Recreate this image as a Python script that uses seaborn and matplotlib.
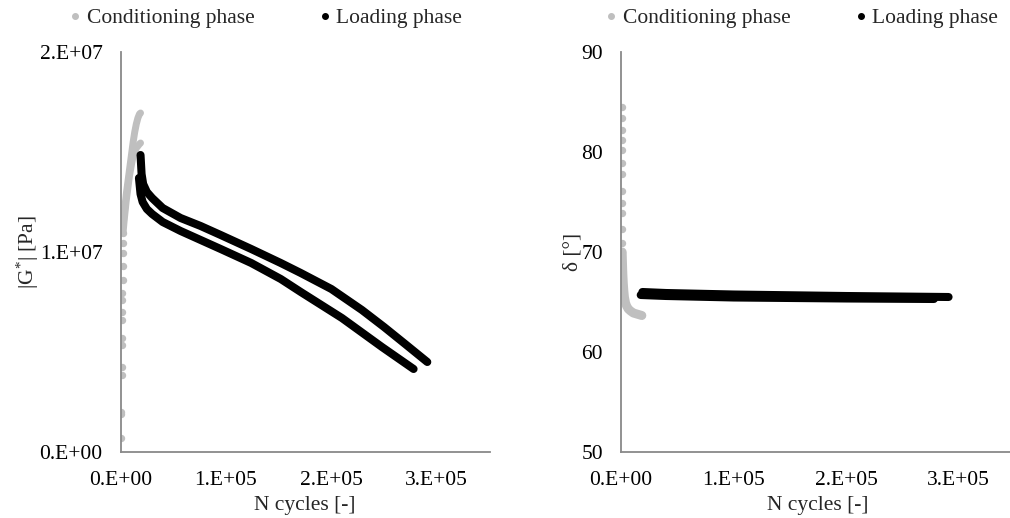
import numpy as np
import pandas as pd
import matplotlib
matplotlib.use("Agg")
import matplotlib.pyplot as plt
import seaborn as sns
from matplotlib.lines import Line2D
from matplotlib.ticker import FuncFormatter

# ---------------- data ----------------
# conditioning phase, isolated early readings
cond_sparse_N = [700, 800, 900, 1000, 1100, 1200, 1300, 1400, 1500, 1600, 1700, 1900, 2100, 2300, 2500, 2700]
cond_sparse_G = [0.07e7, 0.19e7, 0.20e7, 0.385e7, 0.425e7, 0.535e7, 0.57e7, 0.66e7, 0.70e7, 0.76e7,
                 0.795e7, 0.86e7, 0.93e7, 0.995e7, 1.045e7, 1.095e7]
# conditioning phase, dense part (two specimens)
condA_N = [2500, 3500, 4500, 5500, 6500, 7500, 8500, 9500, 10500, 12000, 13500, 15000, 16500, 18000, 19000]
condA_G = [11.3e6, 11.9e6, 12.4e6, 12.9e6, 13.3e6, 13.7e6, 14.1e6, 14.5e6, 14.9e6, 15.5e6, 16.0e6,
           16.4e6, 16.7e6, 16.9e6, 16.95e6]
condB_N = [2500, 3500, 4500, 5500, 6500, 7500, 8500, 9500, 10500, 12000, 13500, 15000, 16500, 18000, 19000]
condB_G = [11.0e6, 11.6e6, 12.1e6, 12.6e6, 13.0e6, 13.4e6, 13.8e6, 14.1e6, 14.4e6, 14.8e6, 15.05e6,
           15.2e6, 15.3e6, 15.4e6, 15.45e6]
# loading phase (two specimens)
loadA_N = [19000, 20000, 21500, 25000, 30000, 40000, 57000, 76000, 95000, 124000, 152000, 171000,
           200000, 229000, 250000, 270000, 291000]
loadA_G = [14.85e6, 13.9e6, 13.4e6, 13.0e6, 12.7e6, 12.2e6, 11.7e6, 11.3e6, 10.85e6, 10.15e6, 9.45e6,
           8.95e6, 8.15e6, 7.1e6, 6.25e6, 5.4e6, 4.5e6]
loadB_N = [17500, 19000, 21000, 25000, 30000, 40000, 57000, 76000, 95000, 124000, 152000, 171000,
           210000, 248000, 278000]
loadB_G = [13.7e6, 12.9e6, 12.5e6, 12.15e6, 11.9e6, 11.5e6, 11.05e6, 10.6e6, 10.15e6, 9.45e6, 8.65e6,
           8.0e6, 6.7e6, 5.25e6, 4.15e6]

# phase angle
cond_sparse_d_N = [500, 550, 600, 650, 700, 750, 800, 850, 900, 950, 1000, 1050, 1100]
cond_sparse_d = [84.5, 83.4, 82.2, 81.2, 80.2, 78.9, 77.8, 76.1, 74.9, 73.9, 72.3, 70.9, 70.0]
cond_d_N = [1000, 1300, 1600, 2000, 2500, 3000, 4000, 5000, 6500, 8500, 11000, 14000, 17000, 18500]
cond_d = [70.0, 68.8, 67.8, 66.9, 66.1, 65.5, 64.9, 64.6, 64.3, 64.1, 63.9, 63.8, 63.7, 63.65]
loadA_dN = [19000, 40000, 100000, 200000, 291000]
loadA_d = [66.0, 65.9, 65.75, 65.6, 65.5]
loadB_dN = [17500, 40000, 100000, 200000, 278000]
loadB_d = [65.7, 65.6, 65.45, 65.35, 65.3]

legend_labels = ["Conditioning phase", "Loading phase"]
x_ticks = [0, 1e5, 2e5, 3e5]

# ---------------- style ----------------
sns.set_theme(style="white")
plt.rcParams["font.family"] = ["Liberation Serif", "DejaVu Serif"]
plt.rcParams["mathtext.fontset"] = "custom"
plt.rcParams["mathtext.rm"] = "Liberation Serif"
plt.rcParams["mathtext.it"] = "Liberation Serif:italic"
FS = 15.5
GRAY = "#bfbfbf"
SPINE = "#898989"

fig = plt.figure(figsize=(10.10, 5.18), dpi=100)
ax1 = fig.add_axes([120.5 / 1010, 66 / 518, 369 / 1010, 400 / 518])
ax2 = fig.add_axes([621 / 1010, 66 / 518, 394 / 1010, 400 / 518])

lw = 5.8
glw = 5.0

def sci(v, pos):
    if v == 0:
        return "0.E+00"
    e = int(np.floor(np.log10(abs(v))))
    m = v / 10 ** e
    return f"{m:.0f}.E+{e:02d}"

# left panel
sns.scatterplot(x=cond_sparse_N, y=cond_sparse_G, ax=ax1, color=GRAY, s=28, linewidth=0, zorder=2)
for n, g in [(condA_N, condA_G), (condB_N, condB_G)]:
    sns.lineplot(x=n, y=g, ax=ax1, color=GRAY, lw=glw, sort=False, estimator=None,
                 solid_capstyle="round", zorder=2)
for n, g in [(loadA_N, loadA_G), (loadB_N, loadB_G)]:
    sns.lineplot(x=n, y=g, ax=ax1, color="black", lw=lw, sort=False, estimator=None,
                 solid_capstyle="round", solid_joinstyle="round", zorder=3)
ax1.set_xlim(0, 3.5e5)
ax1.set_ylim(0, 2e7)
ax1.set_yticks([0, 1e7, 2e7])
ax1.yaxis.set_major_formatter(FuncFormatter(sci))
ax1.set_ylabel("|G$^{*}$| [Pa]", fontsize=FS, labelpad=-1)

# right panel
sns.scatterplot(x=cond_sparse_d_N, y=cond_sparse_d, ax=ax2, color=GRAY, s=28, linewidth=0, zorder=2)
sns.lineplot(x=cond_d_N, y=cond_d, ax=ax2, color=GRAY, lw=glw + 1.5, sort=False, estimator=None,
             solid_capstyle="round", zorder=2)
for n, d in [(loadA_dN, loadA_d), (loadB_dN, loadB_d)]:
    sns.lineplot(x=n, y=d, ax=ax2, color="black", lw=lw, sort=False, estimator=None,
                 solid_capstyle="round", zorder=3)
ax2.set_xlim(0, 3.5e5)
ax2.set_ylim(50, 90)
ax2.set_yticks([50, 60, 70, 80, 90])
ax2.set_ylabel("δ [°]", fontsize=FS, labelpad=-1)

for ax in (ax1, ax2):
    ax.set_xticks(x_ticks)
    ax.xaxis.set_major_formatter(FuncFormatter(sci))
    ax.set_xlabel("N cycles [-]", fontsize=FS, labelpad=4)
    ax.tick_params(axis="both", length=0, labelsize=FS, colors="black")
    ax.tick_params(axis="y", pad=13)
    ax.tick_params(axis="x", pad=14)
    for s in ("top", "right"):
        ax.spines[s].set_visible(False)
    for s in ("left", "bottom"):
        ax.spines[s].set_color(SPINE)
        ax.spines[s].set_linewidth(1.3)
    ax.grid(False)

handles = [Line2D([], [], ls="none", marker="o", ms=4, color=GRAY, mec=GRAY),
           Line2D([], [], ls="none", marker="o", ms=4, color="black")]
for cx in (266 / 1010, 802 / 1010):
    fig.legend(handles, legend_labels, loc="center", bbox_to_anchor=(cx, 1 - 18 / 518), ncol=2,
               frameon=False, fontsize=FS, handlelength=0.5, handletextpad=0.3, columnspacing=3.0,
               borderpad=0)

fig.savefig("out.png", dpi=100)
